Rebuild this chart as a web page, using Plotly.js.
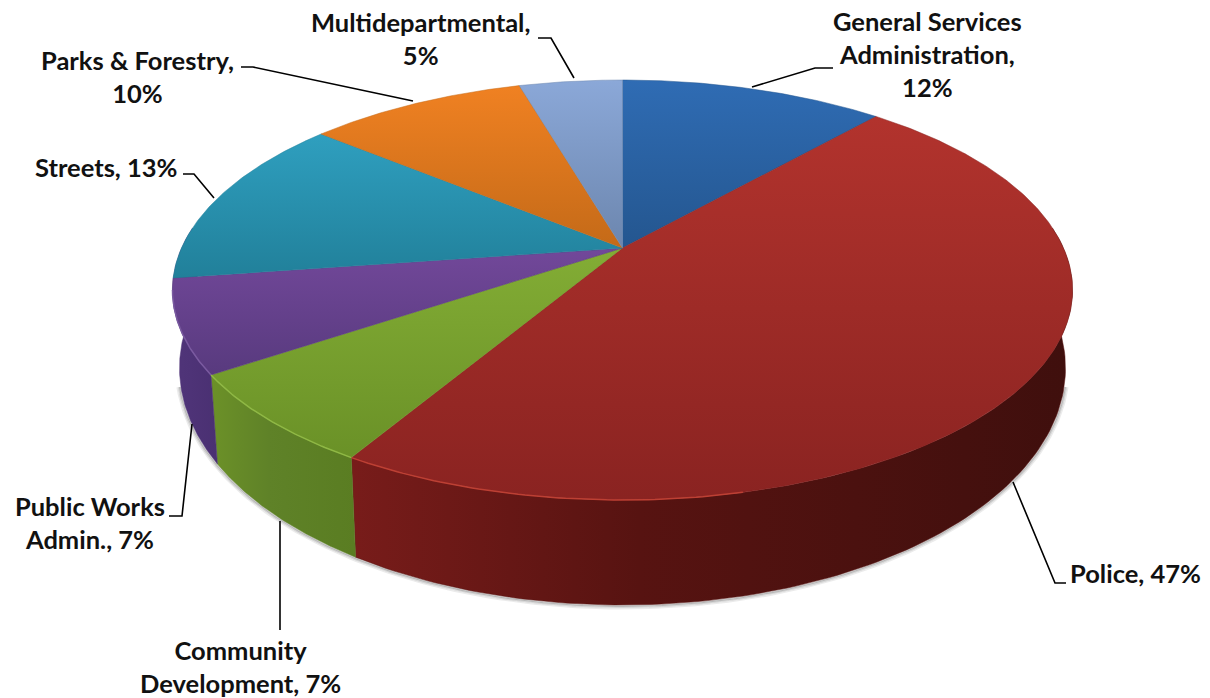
<!DOCTYPE html>
<html>
<head>
<meta charset="utf-8">
<script src="https://cdn.plot.ly/plotly-3.0.1.min.js"></script>
<style>html,body{margin:0;padding:0;background:#fff}#chart{width:1210px;height:698px}</style>
</head>
<body>
<div id="chart"></div>
<script>
// Budget shares, clockwise from twelve o'clock
const categories = ['General Services<br>Administration', 'Police', 'Community<br>Development',
  'Public Works<br>Admin.', 'Streets', 'Parks & Forestry', 'Multidepartmental'];
const shares = [11.5, 47.0, 7.05, 7.15, 13.3, 9.5, 4.5];
const labelSeparators = [',<br>', ', ', ', ', ', ', ', ', ',<br>', ',<br>'];

// Slice shading: lit colour at the top of the face, shaded colour at the bottom
const faceLight = ['#2f6cb4', '#b2332d', '#83ad35', '#72489a', '#2f9fbf', '#f08122', '#8ba8d8'];
const faceDark  = ['#24568f', '#8a2321', '#6a9127', '#583a7e', '#21809a', '#c46a18', '#6c86ae'];
const wallLeft  = ['#000', '#781c1a', '#6c9128', '#503579', '#000', '#000', '#000'];
const wallMid   = ['#000', '#571311', '#5f8228', '#4e3377', '#000', '#000', '#000'];
const wallRight = ['#000', '#3f0f0d', '#5a7d22', '#4a3072', '#000', '#000', '#000'];
const rimColors = [null, '#bd4034', '#8fb845', '#7a5aa0', null, null, null];

// Label centres in chart coordinates
const labelX = [927, 1135, 240, 90, 106, 137, 420];
const labelY = [54, 573, 666, 522, 167, 76, 38];

// Leader lines, one x/y list per slice
const leaderX = [[752, 815, 833], [1013, 1055, 1066], [280, 280], [192, 182, 169],
                 [214, 194, 183], [413, 253, 241], [574, 551, 538]];
const leaderY = [[87, 68, 68], [482, 583, 583], [521, 630], [424, 516, 516],
                 [198, 174, 174], [101, 67, 67], [78, 38, 38]];

// Perspective projection of the disc onto the page
const APEX = {x: 622.5, y: 248};
const PERSP = {a: 441, b: 201.6, k: 0.2};
const TOP_RIM = {cy: 290, rx: 450, ry: 210};
const BASE_RIM = {cy: 368, rx: 443, ry: 237};

function project(deg) {
  const r = deg * Math.PI / 180, u = Math.sin(r), v = Math.cos(r), w = 1 + PERSP.k * v;
  return [APEX.x + PERSP.a * u / w, APEX.y - PERSP.b * v / w];
}
function rimParam(deg) {
  const p = project(deg);
  let t = Math.atan2((p[1] - TOP_RIM.cy) / TOP_RIM.ry, (p[0] - APEX.x) / TOP_RIM.rx);
  if (t < -Math.PI / 2) t += 2 * Math.PI;
  return t;
}
const onRim = (rim, t) => [APEX.x + rim.rx * Math.cos(t), rim.cy + rim.ry * Math.sin(t)];

const total = shares.reduce((s, v) => s + v, 0);
const silhouette = 0.3;
const walls = [], faces = [], rims = [], annotations = [];
let start = 0;

shares.forEach((share, i) => {
  const end = start + share / total * 360;
  const base = {type: 'scatter', mode: 'lines', hoverinfo: 'skip', showlegend: false};

  // Top face wedge
  const fx = [APEX.x], fy = [APEX.y];
  for (let d = start; d < end; d += 0.5) { const p = project(d); fx.push(p[0]); fy.push(p[1]); }
  const pe = project(end); fx.push(pe[0], APEX.x); fy.push(pe[1], APEX.y);
  faces.push(Object.assign({}, base, {
    name: categories[i].replace('<br>', ' '), x: fx, y: fy, fill: 'toself',
    line: {color: faceDark[i], width: 0.5},
    fillgradient: {type: 'vertical', start: Math.min(...fy), stop: Math.max(...fy),
      colorscale: [[0, faceLight[i]], [1, faceDark[i]]]}
  }));

  // Outer wall for the part of the rim that faces the viewer
  let t0 = rimParam(start), t1 = rimParam(end);
  if (t0 < Math.PI && t1 > -silhouette) {
    t0 = Math.max(t0, -silhouette);
    const faceEnd = Math.min(t1, Math.PI);
    if (t1 > Math.PI - 0.1) t1 = Math.PI + silhouette;
    const top = [], bottom = [], steps = 120;
    for (let s = 0; s <= steps; s++) {
      const t = t0 + (t1 - t0) * s / steps;
      top.push(onRim(TOP_RIM, t)); bottom.push(onRim(BASE_RIM, t));
    }
    const ring = top.concat(bottom.reverse()); ring.push(ring[0]);
    const xs = ring.map(p => p[0]);
    walls.push(Object.assign({}, base, {
      x: xs, y: ring.map(p => p[1]), fill: 'toself',
      line: {color: wallMid[i], width: 0.5},
      fillgradient: {type: 'horizontal', start: Math.min(...xs), stop: Math.max(...xs),
        colorscale: [[0, wallLeft[i]], [0.4, wallMid[i]], [1, wallRight[i]]]}
    }));
    // Bright bevel along the front edge of the face, fading out past the centre line
    if (rimColors[i]) {
      const from = Math.max(t0, 1.3);
      const rx = [], ry = [];
      for (let s = 0; s <= 60; s++) {
        const p = onRim(TOP_RIM, from + (faceEnd - from) * s / 60);
        rx.push(p[0]); ry.push(p[1]);
      }
      rims.push(Object.assign({}, base, {x: rx, y: ry, line: {color: rimColors[i], width: 1.5}}));
    }
  }

  annotations.push({
    xref: 'x', yref: 'y', x: labelX[i], y: labelY[i], showarrow: false,
    xanchor: 'center', yanchor: 'middle', align: 'center',
    text: categories[i] + labelSeparators[i] + Math.round(share) + '%',
    font: {family: 'Lato, "Open Sans", sans-serif', size: 25.5, color: '#111', weight: 700}
  });
  start = end;
});

// Soft ground shadow hugging the lower rim
const shadows = [[3.5, 0.10], [2, 0.16], [1, 0.24]].map(([grow, alpha]) => {
  const sx = [], sy = [];
  for (let s = 0; s <= 200; s++) {
    const t = 0.08 + (Math.PI - 0.16) * s / 200;
    const p = onRim({cy: BASE_RIM.cy, rx: BASE_RIM.rx + grow, ry: BASE_RIM.ry + grow}, t);
    sx.push(p[0]); sy.push(p[1]);
  }
  return {type: 'scatter', mode: 'lines', hoverinfo: 'skip', showlegend: false, x: sx, y: sy,
    line: {color: 'rgba(60,60,60,' + alpha + ')', width: 2}};
});

const leaders = leaderX.map((xs, i) => ({
  type: 'scatter', mode: 'lines', hoverinfo: 'skip', showlegend: false,
  x: xs, y: leaderY[i], line: {color: '#000', width: 1.6}
}));

const hiddenAxis = {visible: false, showgrid: false, zeroline: false, fixedrange: true};
Plotly.newPlot('chart', shadows.concat(walls, faces, rims, leaders), {
  width: 1210, height: 698,
  margin: {l: 0, r: 0, t: 0, b: 0},
  paper_bgcolor: '#fff', plot_bgcolor: '#fff', showlegend: false,
  xaxis: Object.assign({range: [0, 1210]}, hiddenAxis),
  yaxis: Object.assign({range: [698, 0]}, hiddenAxis),
  annotations
}, {displayModeBar: false, staticPlot: true});
</script>
</body>
</html>
